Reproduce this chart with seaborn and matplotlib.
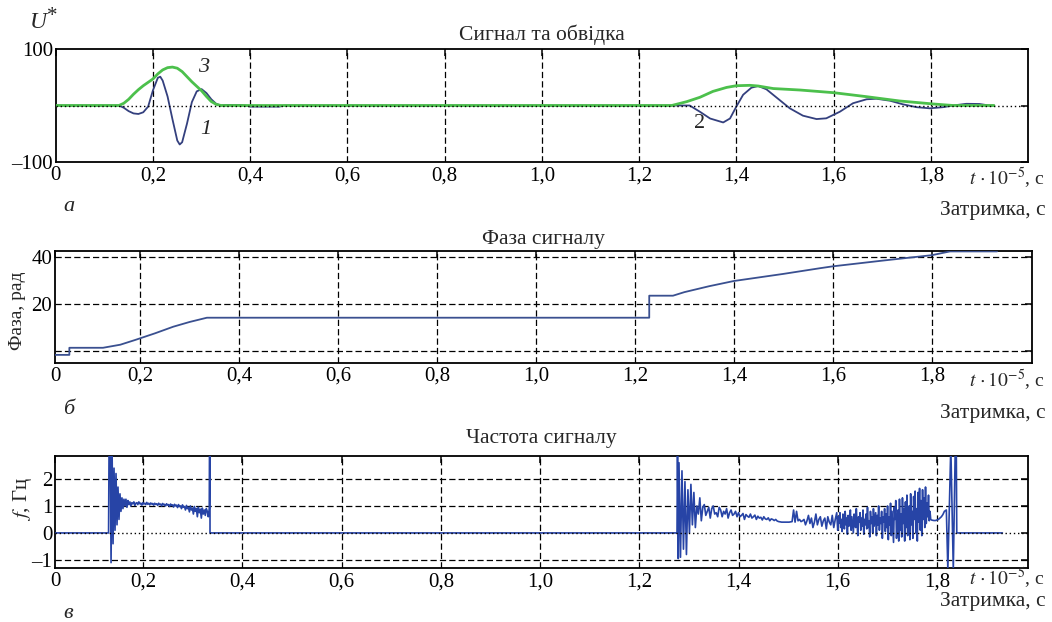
import numpy as np
import matplotlib
matplotlib.use("Agg")
import matplotlib.pyplot as plt
import seaborn as sns

# ---------------- data ----------------
# (a) received signal (curves 1, 2) and its envelope (curve 3), t in 1e-5 s
sig_t = [0.00, 0.13, 0.14, 0.15, 0.16, 0.17, 0.18, 0.19, 0.20, 0.21, 0.215, 0.22,
         0.23, 0.24, 0.25, 0.255, 0.26, 0.27, 0.28, 0.29, 0.30, 0.31, 0.32, 0.33,
         0.34, 0.35, 0.38, 0.39, 0.40, 0.46, 0.47,
         1.304, 1.325, 1.346, 1.373, 1.387, 1.40, 1.414, 1.431, 1.445, 1.462, 1.489,
         1.51, 1.537, 1.565, 1.585, 1.613, 1.64, 1.668, 1.688, 1.716, 1.743, 1.771,
         1.798, 1.825, 1.846, 1.873, 1.90, 1.92, 1.93]
sig_v = [0, 0, -4, -10, -14, -15, -12, -2, 27, 49, 51, 44,
         16, -24, -62, -69, -65, -32, 6, 25, 29, 22, 11, 3,
         0, 1, 1, 0, -2, -2, 0,
         0, -11, -23, -30, -23, -2, 19, 31.5, 34.5, 28.6, 9.7,
         -5, -18, -24, -22.7, -11, 4, 11, 12, 8.5, 2, -3,
         -5, -3, 0, 3, 2.7, 0, 0]

env_t = [0.00, 0.13, 0.14, 0.15, 0.16, 0.17, 0.18, 0.19, 0.20, 0.21, 0.22, 0.23,
         0.24, 0.25, 0.26, 0.27, 0.28, 0.29, 0.30, 0.31, 0.32, 0.33, 0.34,
         1.267, 1.298, 1.325, 1.352, 1.38, 1.40, 1.428, 1.445, 1.476, 1.531, 1.60,
         1.668, 1.736, 1.805, 1.846, 1.93]
env_v = [0, 0, 4, 11, 20, 28, 35, 41, 47, 56, 63, 67,
         68, 66, 60, 51, 42, 34, 26, 16, 7, 2, 0,
         0, 6.8, 14.5, 25, 32, 35, 35.7, 34.5, 30, 27.4, 22.7,
         15.6, 8, 2.7, 0, 0]

# (б) unwrapped phase, rad
phase_t = [0.028, 0.057, 0.057, 0.125, 0.16, 0.19, 0.20, 0.23, 0.267, 0.30, 0.335,
           1.229, 1.229, 1.277, 1.30, 1.35, 1.40, 1.50, 1.574, 1.60, 1.70, 1.80,
           1.837, 1.932]
phase_v = [-1.5, -1.5, 1.5, 1.5, 2.8, 4.8, 5.5, 7.6, 10.4, 12.4, 14.2,
           14.2, 23.5, 23.5, 25.0, 27.5, 29.7, 32.7, 35.1, 35.9, 38.3, 40.6,
           42.2, 42.2]

# (в) instantaneous frequency
freq_head_t = [0.022, 0.130, 0.131, 0.1335, 0.135, 0.137, 0.139, 0.141, 0.143, 0.145,
               0.147, 0.149, 0.151, 0.153, 0.155, 0.157, 0.159, 0.161, 0.163]
freq_head_v = [0, 0, 3.2, 3.2, -1.1, 3.2, -0.4, 2.4, 0.1, 2.2,
               0.3, 1.7, 0.5, 1.45, 0.8, 1.3, 0.9, 1.25, 1.0]
# first echo, uniformly sampled
freq_burst1_start, freq_burst1_step = 0.165, 0.002
freq_burst1 = [1.25, 0.95, 1.2, 1.05, 1.15, 1.0, 1.12, 1.08, 1.15, 1.02,
               1.1, 1.12, 1.05, 1.15, 1.08, 1.1, 1.03, 1.12, 1.07, 1.1,
               1.05, 1.13, 1.06, 1.1, 1.04, 1.11, 1.07, 1.09, 1.03, 1.1,
               1.06, 1.08, 1.02, 1.1, 1.05, 1.07, 1.0, 1.09, 1.04, 1.06,
               1.0, 1.08, 1.03, 1.05, 0.98, 1.07, 1.02, 1.04, 0.96, 1.06,
               1.0, 1.03, 0.94, 1.05, 0.98, 1.0, 0.9, 1.04, 0.95, 0.98,
               0.85, 1.02, 0.9, 0.95, 0.78, 1.0, 0.85, 0.92, 0.7, 0.98,
               0.8, 0.9, 0.6, 0.95, 0.75, 0.88, 0.55, 0.92, 0.7, 0.85,
               0.65, 0.9, 0.8]
freq_mid_t = [0.331, 0.333, 0.3335, 0.3345, 0.3345, 1.276, 1.277, 1.2785]
freq_mid_v = [0.6, 0.9, 3.2, 3.2, 0, 0, 3.2, -0.95]
# second echo, first part
freq_burst2_start, freq_burst2_step = 1.280, 0.003
freq_burst2 = [2.6, -0.9, 2.3, -0.6, 1.9, -0.8, 1.6,
               0.0, 1.8, 0.3, 1.5, 0.2, 1.0, 0.7, 1.3, 0.45, 0.95,
               1.05, 0.65, 0.8, 0.95, 0.55, 0.9, 1.0, 0.7, 0.75, 0.6, 0.95, 0.85,
               0.6, 0.8, 0.7, 0.9, 0.55, 0.75, 0.85, 0.65, 0.7, 0.8, 0.6,
               0.75, 0.6, 0.65, 0.72, 0.5, 0.68, 0.62, 0.58, 0.7, 0.55, 0.6, 0.66,
               0.5, 0.62, 0.55, 0.58, 0.48, 0.6, 0.52, 0.5, 0.56, 0.45, 0.52, 0.5,
               0.46, 0.5, 0.44,
               0.42, 0.41, 0.40, 0.40, 0.40, 0.40, 0.40, 0.40, 0.41, 0.42,
               0.85, 0.4, 0.8, 0.45, 0.5, 0.42, 0.45,
               0.5, 0.3, 0.45, 0.65, 0.35, 0.55, 0.2, 0.4, 0.7, 0.3, 0.5, 0.6,
               0.25, 0.45, 0.55, 0.15, 0.6, 0.4, 0.3, 0.65, 0.2, 0.5, 0.75]
# second echo, noisy tail (denser sampling)
freq_burst3_start, freq_burst3_step = 1.600, 0.0015
freq_burst3 = [0.1, 0.6, 0.35, 0.75, 0.2, 0.5, 0.05, 0.7, 0.4, 0.15,
               0.8, 0.3, 0.55, -0.05, 0.65, 0.25, 0.45, 0.85, 0.1, 0.6,
               0.3, 0.0, 0.7, 0.5, 0.2, 0.9, 0.35, -0.1, 0.6, 0.4,
               0.75, 0.1, 0.55, 0.25, 0.85, -0.05, 0.5, 0.3, 0.7, 0.15,
               0.95, 0.2, 0.45, -0.15, 0.8, 0.35, 0.6, 0.0, 0.9, 0.25,
               0.5, 0.75, -0.1, 0.65, 0.3, 1.0, 0.1, 0.55, 0.35, 0.8,
               -0.2, 0.6, 0.4, 0.9, 0.05, 0.7, 0.2,
               1.0, -0.25, 0.6, 0.3, 1.1, -0.1, 0.8, 0.2, -0.35, 0.95,
               0.5, 1.2, -0.2, 0.4, 0.85, -0.3, 1.25, 0.1, 0.7, -0.15,
               1.3, 0.35, 0.9, -0.3, 1.15, 0.2, 1.4, -0.1, 0.6, 1.0,
               -0.25, 1.45, 0.3, 0.8, -0.2, 1.35, 0.5, 1.55, 0.0, 0.9,
               -0.3, 1.5, 0.4, 1.65, 0.1, 1.2, -0.1, 1.6, 0.5, 1.3,
               0.2, 1.7, 0.35, 1.1, 0.6, 1.4, 0.45, 0.8, 0.5, 0.48]
freq_tail_t = [1.791, 1.794, 1.797, 1.800, 1.803, 1.806, 1.809, 1.812, 1.815,
               1.819, 1.822, 1.828, 1.833, 1.837, 1.839, 1.840, 1.932]
freq_tail_v = [0.47, 0.46, 0.46, 0.48, 0.5, 0.55, 0.6, 0.68, 0.8,
               0.85, -1.35, 3.2, -1.35, 3.2, 3.2, 0, 0]

x_ticks = [0.2, 0.4, 0.6, 0.8, 1.0, 1.2, 1.4, 1.6, 1.8]
x_tick_labels = ["0,2", "0,4", "0,6", "0,8", "1,0", "1,2", "1,4", "1,6", "1,8"]

# ---------------- style ----------------
sns.set_theme(style="white")
plt.rcParams["font.family"] = ["Liberation Serif", "DejaVu Serif"]
plt.rcParams["mathtext.fontset"] = "stix"
plt.rcParams["axes.unicode_minus"] = False

W, H = 1052, 622
fig = plt.figure(figsize=(W / 100, H / 100), dpi=100)


def px_axes(left, top, right, bottom):
    return fig.add_axes([left / W, 1 - bottom / H, (right - left) / W, (bottom - top) / H])


DASH = (0, (5, 2.5))
DOT = (0, (1, 2))
BLUE_SIG = "#34407e"
GREEN = "#4cc04c"
BLUE_PHASE = "#3a5090"
BLUE_FREQ = "#2744a6"
TICK_FS = 15
TITLE_FS = 15.5
XLAB_FS = 15.5


def style_axes(ax, x0, x1, ylim, yticks, ylabels):
    ax.set_xlim(x0, x1)
    ax.set_ylim(*ylim)
    ax.set_xticks([x0] + x_ticks)
    ax.set_xticklabels(["0"] + x_tick_labels)
    ax.set_yticks(yticks)
    ax.set_yticklabels(ylabels)
    ax.set_xlabel("")
    ax.set_ylabel("")
    ax.tick_params(direction="in", top=True, right=True, length=5, width=1.1,
                   labelsize=TICK_FS, colors="black", pad=3)
    ax.tick_params(axis="y", pad=2)
    for s in ax.spines.values():
        s.set_color("black")
        s.set_linewidth(1.3)
        s.set_visible(True)
    for xv in x_ticks:
        ax.axvline(xv, color="black", lw=0.9, ls=DASH, zorder=1)


# ---- (a) signal and envelope ----
ax_a = px_axes(55.75, 49, 1028, 162)
sns.lineplot(x=sig_t, y=sig_v, sort=False, estimator=None, color=BLUE_SIG, lw=1.3, ax=ax_a, zorder=3)
sns.lineplot(x=env_t, y=env_v, sort=False, estimator=None, color=GREEN, lw=2.0, ax=ax_a, zorder=4)
ax_a.axhline(0, color="black", lw=1.0, ls=DOT, zorder=5)
style_axes(ax_a, 0.0, 2.0, (-100, 100), [-100, 0, 100], ["\u2013100", "", "100"])
ax_a.text(0.293, 68, "3", fontsize=16, style="italic", ha="left", va="center")
ax_a.text(0.298, -42, "1", fontsize=16, style="italic", ha="left", va="center")
ax_a.text(1.325, -31, "2", fontsize=16, ha="center", va="center")

# ---- (б) phase ----
ax_b = px_axes(55, 250.7, 1031.7, 362.7)
sns.lineplot(x=phase_t, y=phase_v, sort=False, estimator=None, color=BLUE_PHASE, lw=1.3, ax=ax_b, zorder=3)
style_axes(ax_b, 0.028, 2.002, (-4.8, 42.5), [0, 20, 40], ["", "20", "40"])
for yv in [0, 20, 40]:
    ax_b.axhline(yv, color="black", lw=0.9, ls=DASH, zorder=1)

# ---- (в) frequency ----
ft = (freq_head_t
      + list(freq_burst1_start + freq_burst1_step * np.arange(len(freq_burst1)))
      + freq_mid_t
      + list(freq_burst2_start + freq_burst2_step * np.arange(len(freq_burst2)))
      + list(freq_burst3_start + freq_burst3_step * np.arange(len(freq_burst3)))
      + freq_tail_t)
fv = freq_head_v + freq_burst1 + freq_mid_v + freq_burst2 + freq_burst3 + freq_tail_v
ax_c = px_axes(55, 456, 1027.7, 568.3)
sns.lineplot(x=ft, y=fv, sort=False, estimator=None, color=BLUE_FREQ, lw=1.2, ax=ax_c, zorder=3)
style_axes(ax_c, 0.022, 1.983, (-1.31, 2.85), [-1, 0, 1, 2], ["\u20131", "0", "1", "2"])
for yv in [-1, 1, 2]:
    ax_c.axhline(yv, color="black", lw=0.9, ls=DASH, zorder=1)
ax_c.axhline(0, color="black", lw=1.0, ls=DOT, zorder=5)


# ---------------- figure texts ----------------
def ftext(x, y, s, **kw):
    fig.text(x / W, 1 - y / H, s, **kw)


ftext(30, 28, "U", fontsize=17, style="italic", va="baseline", ha="left")
ftext(47, 21, "*", fontsize=15, va="baseline", ha="left")

ftext(542, 40, "Сигнал та обвідка", fontsize=TITLE_FS, ha="center", va="baseline")
ftext(543, 244, "Фаза сигналу", fontsize=TITLE_FS, ha="center", va="baseline")
ftext(541, 443, "Частота сигналу", fontsize=TITLE_FS, ha="center", va="baseline")

for y_t, y_lab, y_letter, letter in [(185, 215, 211, "а"), (387, 418, 414, "б"), (585, 606, 618, "в")]:
    ftext(1045, y_t, r"$t\,\cdot10^{-5}$, с", fontsize=14, ha="right", va="baseline")
    ftext(1046, y_lab, "Затримка, с", fontsize=XLAB_FS, ha="right", va="baseline")
    ftext(63, y_letter, letter, fontsize=16, style="italic", ha="left", va="baseline")

ftext(18, 311, "Фаза, рад", fontsize=14, rotation=90, ha="center", va="center")
ftext(23, 499, r"$f$, Гц", fontsize=15, rotation=90, ha="center", va="center")

fig.savefig("out.png", dpi=100, facecolor="white")
